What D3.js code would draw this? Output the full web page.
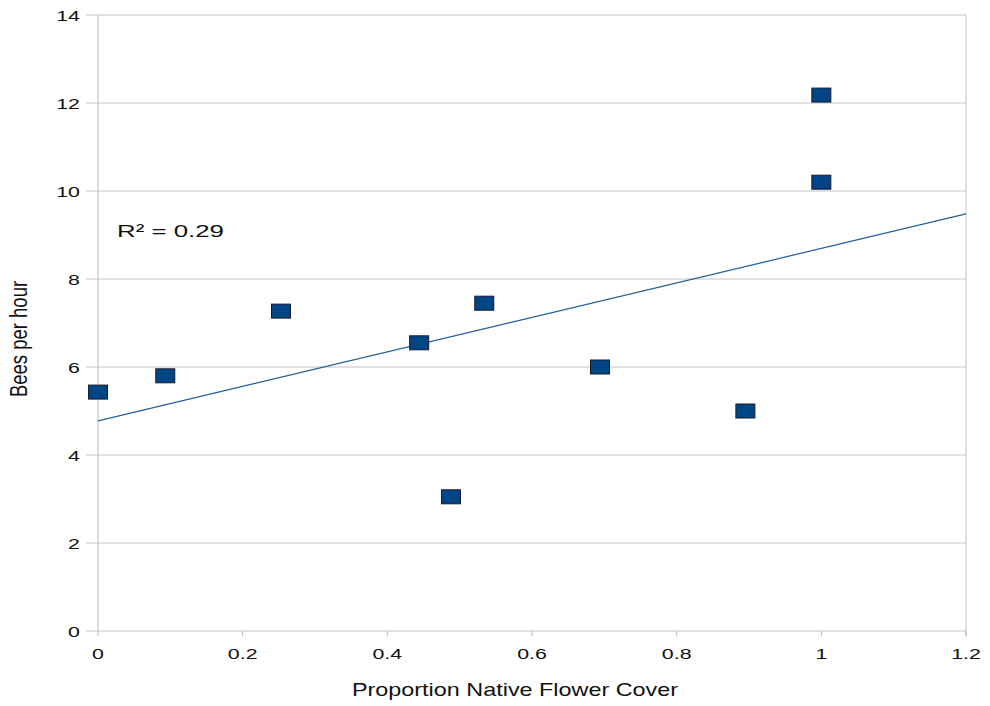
<!DOCTYPE html>
<html>
<head>
<meta charset="utf-8">
<script src="https://cdn.jsdelivr.net/npm/d3@7"></script>
<style>
  body { margin: 0; background: #fff; }
  text { font-family: "Liberation Sans", Arial, sans-serif; fill: #111; }
</style>
</head>
<body>
<svg id="chart" width="990" height="706"></svg>
<script>
// values
var coverValues = [0, 0.093, 0.253, 0.444, 0.488, 0.534, 0.694, 0.895, 1.0, 1.0];
var beeValues   = [5.43, 5.80, 7.27, 6.55, 3.05, 7.45, 6.0, 5.0, 12.18, 10.2];
var xTicks = [0, 0.2, 0.4, 0.6, 0.8, 1, 1.2];
var yTicks = [0, 2, 4, 6, 8, 10, 12, 14];
var rSquaredLabel = "R² = 0.29";

var svg = d3.select("#chart"),
    plotLeft = 98, plotRight = 966, plotTop = 15, plotBottom = 631,
    stretch = 1.38;   // the original text is drawn wide

var x = d3.scaleLinear().domain([0, 1.2]).range([plotLeft, plotRight]);
var y = d3.scaleLinear().domain([0, 14]).range([plotBottom, plotTop]);

// gridlines
svg.append("g")
  .selectAll("line")
  .data(yTicks)
  .join("line")
    .attr("x1", plotLeft - 12).attr("x2", plotRight)
    .attr("y1", d => y(d)).attr("y2", d => y(d))
    .attr("stroke", "#c4c4c4").attr("stroke-width", 1);

// vertical frame lines
svg.append("line").attr("x1", plotLeft).attr("x2", plotLeft)
  .attr("y1", plotTop).attr("y2", plotBottom)
  .attr("stroke", "#b8b8b8");
svg.append("line").attr("x1", plotRight).attr("x2", plotRight)
  .attr("y1", plotTop).attr("y2", plotBottom + 5)
  .attr("stroke", "#c4c4c4");

// x ticks
svg.append("g")
  .selectAll("line")
  .data(xTicks)
  .join("line")
    .attr("x1", d => x(d)).attr("x2", d => x(d))
    .attr("y1", plotBottom).attr("y2", plotBottom + 5)
    .attr("stroke", "#b8b8b8");

svg.append("g")
  .selectAll("text")
  .data(xTicks)
  .join("text")
    .attr("transform", d => "translate(" + x(d) + "," + (plotBottom + 28) + ") scale(" + stretch + ",1)")
    .attr("text-anchor", "middle")
    .attr("font-size", 15.5)
    .text(d => d);

svg.append("g")
  .selectAll("text")
  .data(yTicks)
  .join("text")
    .attr("transform", d => "translate(" + (plotLeft - 18) + "," + (y(d) + 5.5) + ") scale(" + stretch + ",1)")
    .attr("text-anchor", "end")
    .attr("font-size", 15.5)
    .text(d => d);

// trend line from least squares fit
var mx = d3.mean(coverValues), my = d3.mean(beeValues);
var sxy = d3.sum(coverValues, (v, i) => (v - mx) * (beeValues[i] - my));
var sxx = d3.sum(coverValues, v => (v - mx) * (v - mx));
var slope = sxy / sxx, intercept = my - slope * mx;

svg.append("line")
  .attr("x1", x(0)).attr("y1", y(intercept))
  .attr("x2", x(1.2)).attr("y2", y(intercept + slope * 1.2))
  .attr("stroke", "#1f5d9c").attr("stroke-width", 1.2);

// points
var pts = coverValues.map((v, i) => ({cx: v, cy: beeValues[i]}));
svg.append("g")
  .selectAll("rect")
  .data(pts)
  .join("rect")
    .attr("x", d => x(d.cx) - 9.5).attr("y", d => y(d.cy) - 7)
    .attr("width", 19).attr("height", 14)
    .attr("fill", "#004586")
    .attr("stroke", "#1a1a2a").attr("stroke-width", 1);

svg.append("text")
  .attr("transform", "translate(117,237) scale(1.52,1)")
  .attr("font-size", 17)
  .text(rSquaredLabel);

svg.append("text")
  .attr("transform", "translate(515,696) scale(1.3,1)")
  .attr("text-anchor", "middle")
  .attr("font-size", 18)
  .text("Proportion Native Flower Cover");

svg.append("text")
  .attr("transform", "translate(27,339) rotate(-90) scale(1,1.3)")
  .attr("text-anchor", "middle")
  .attr("font-size", 18.5)
  .text("Bees per hour");
</script>
</body>
</html>
